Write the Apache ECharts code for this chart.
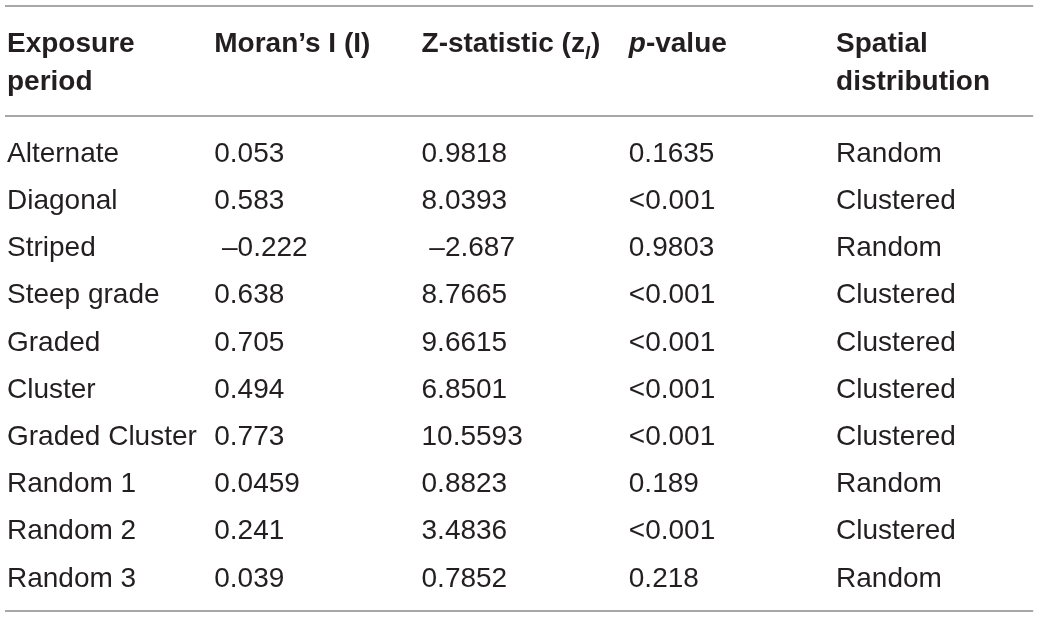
<!DOCTYPE html>
<html>
<head>
<meta charset="utf-8">
<script src="https://cdn.jsdelivr.net/npm/echarts@6/dist/echarts.min.js"></script>
<style>
html,body{margin:0;padding:0;background:#fff;}
#chart{width:1040px;height:619px;}
</style>
</head>
<body>
<div id="chart"></div>
<script>
// ---- data ----
var periods = ['Alternate','Diagonal','Striped','Steep grade','Graded','Cluster','Graded Cluster','Random 1','Random 2','Random 3'];
var moransI = ['0.053','0.583',' \u20130.222','0.638','0.705','0.494','0.773','0.0459','0.241','0.039'];
var zStat = ['0.9818','8.0393',' \u20132.687','8.7665','9.6615','6.8501','10.5593','0.8823','3.4836','0.7852'];
var pValue = ['0.1635','<0.001','0.9803','<0.001','<0.001','<0.001','<0.001','0.189','<0.001','0.218'];
var distribution = ['Random','Clustered','Random','Clustered','Clustered','Clustered','Clustered','Random','Clustered','Random'];
var headers = [
  '{b|Exposure}\n{b|period}',
  '{b|Moran\u2019s I (I)}',
  '{b|Z-statistic (z}{sub|I}{b|)}',
  '{bi|p}{b|-value}',
  '{b|Spatial}\n{b|distribution}'
];

// ---- layout constants ----
var FONT = "'Liberation Sans', Arial, Helvetica, sans-serif";
var TXT = '#231f20';
var FS = 28;
var headerRow2 = -1.93;   // row position of a two-line header block
var headerRow1 = -2.332;  // row position of a one-line header (aligned with first line)
var rules = [-3.134, -0.804, 9.678];

var columns = [periods, moransI, zStat, pValue, distribution];
var cellData = [];
columns.forEach(function (col, ci) {
  col.forEach(function (v, ri) { cellData.push([ci, ri, v]); });
});
var headData = headers.map(function (h, ci) {
  return [ci, h.indexOf('\n') >= 0 ? headerRow2 : headerRow1, h];
});

var ruleSeries = rules.map(function (y) {
  return {
    type: 'line', silent: true, symbol: 'none',
    data: [[-0.0097, y], [4.951, y]],
    lineStyle: { color: '#8a8a8a', width: 1.5 },
    z: 1
  };
});

var chart = echarts.init(document.getElementById('chart'), null, { renderer: 'canvas' });
chart.setOption({
  animation: false,
  backgroundColor: '#ffffff',
  grid: { left: 0, right: 0, top: 0, bottom: 0, containLabel: false },
  xAxis: { type: 'value', min: -0.0338, max: 4.984, show: false },
  yAxis: { type: 'value', inverse: true, min: -3.261, max: 9.848, show: false },
  series: ruleSeries.concat([
    {
      type: 'scatter', symbolSize: 0, silent: true,
      itemStyle: { opacity: 1 },
      data: cellData,
      label: {
        show: true, position: 'right', distance: 0,
        formatter: function (p) { return p.data[2]; },
        color: TXT, fontSize: FS, fontFamily: FONT, align: 'left', verticalAlign: 'middle'
      }
    },
    {
      type: 'scatter', symbolSize: 0, silent: true,
      itemStyle: { opacity: 1 },
      data: headData,
      label: {
        show: true, position: 'right', distance: 0,
        formatter: function (p) { return p.data[2]; },
        color: TXT, fontSize: FS, fontFamily: FONT, lineHeight: 38,
        align: 'left', verticalAlign: 'middle',
        rich: {
          b: { fontWeight: 'bold', fontSize: FS, fontFamily: FONT, color: TXT, lineHeight: 38 },
          bi: { fontWeight: 'bold', fontStyle: 'italic', fontSize: FS, fontFamily: FONT, color: TXT, lineHeight: 38 },
          sub: { fontWeight: 'bold', fontStyle: 'italic', fontSize: 18, fontFamily: FONT, color: TXT, verticalAlign: 'bottom', padding: [13, 1, 0, 0], lineHeight: 38 }
        }
      }
    }
  ])
});
</script>
</body>
</html>
